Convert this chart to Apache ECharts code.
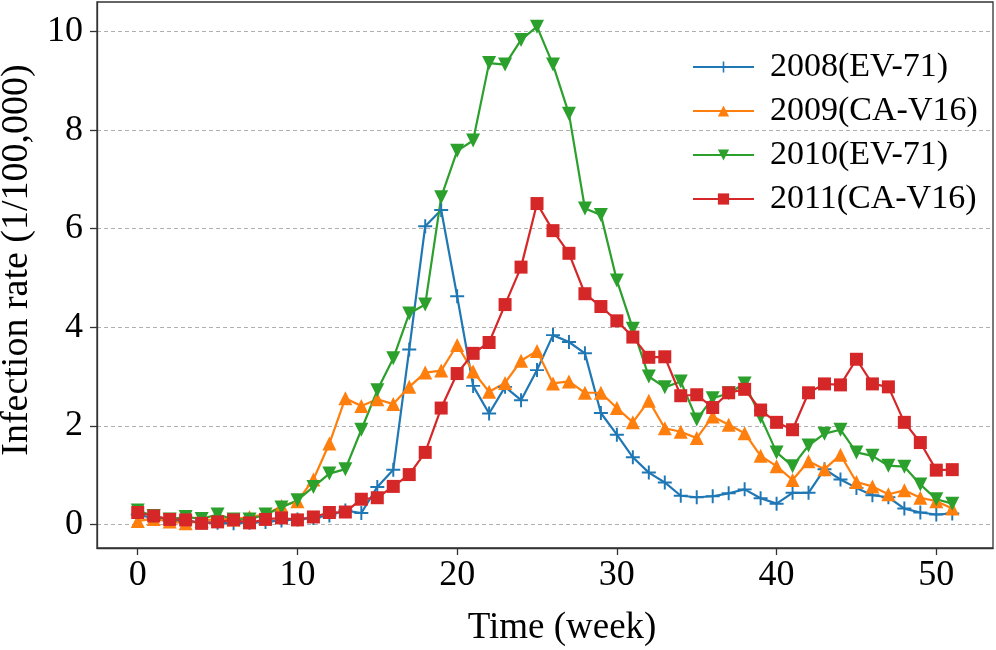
<!DOCTYPE html>
<html><head><meta charset="utf-8">
<script src="https://cdn.jsdelivr.net/npm/echarts@6/dist/echarts.min.js"></script>
<style>html,body{margin:0;padding:0;background:#fff}#c{width:996px;height:650px}</style>
</head><body><div id="c"></div>
<script>
const weeks = [0,1,2,3,4,5,6,7,8,9,10,11,12,13,14,15,16,17,18,19,20,21,22,23,24,25,26,27,28,29,30,31,32,33,34,35,36,37,38,39,40,41,42,43,44,45,46,47,48,49,50,51];
const seriesNames = ['2008(EV-71)','2009(CA-V16)','2010(EV-71)','2011(CA-V16)'];
const y2008 = [0.20,0.12,0.08,0.06,0.04,0.03,0.02,0.03,0.05,0.08,0.10,0.13,0.18,0.28,0.23,0.76,1.11,3.55,6.05,6.38,4.63,2.81,2.25,2.79,2.52,3.13,3.84,3.70,3.47,2.26,1.82,1.36,1.05,0.85,0.58,0.55,0.57,0.63,0.71,0.53,0.42,0.64,0.64,1.12,0.91,0.74,0.59,0.55,0.32,0.24,0.20,0.22];
const y2009 = [0.07,0.11,0.06,0.02,0.07,0.11,0.10,0.15,0.20,0.37,0.47,0.91,1.64,2.56,2.40,2.54,2.44,2.79,3.08,3.12,3.64,3.10,2.69,2.87,3.32,3.52,2.86,2.90,2.67,2.67,2.36,2.07,2.51,1.95,1.88,1.75,2.19,2.02,1.85,1.39,1.18,0.90,1.28,1.12,1.41,0.86,0.77,0.61,0.69,0.54,0.47,0.32];
const y2010 = [0.28,0.17,0.10,0.15,0.11,0.20,0.10,0.10,0.20,0.34,0.49,0.76,1.03,1.12,1.92,2.72,3.37,4.28,4.46,6.64,7.58,7.79,9.36,9.33,9.83,10.10,9.33,8.33,6.41,6.28,4.95,3.97,3.00,2.78,2.90,2.13,2.56,2.66,2.86,2.18,1.46,1.18,1.60,1.84,1.92,1.46,1.39,1.19,1.17,0.81,0.51,0.42];
const y2011 = [0.24,0.17,0.10,0.09,0.02,0.05,0.09,0.03,0.10,0.13,0.09,0.15,0.24,0.25,0.51,0.54,0.77,1.01,1.46,2.36,3.06,3.47,3.69,4.46,5.22,6.51,5.96,5.50,4.68,4.42,4.13,3.80,3.39,3.40,2.61,2.63,2.37,2.67,2.74,2.32,2.07,1.92,2.67,2.85,2.83,3.35,2.85,2.79,2.07,1.66,1.10,1.11];
const xTicks = [0,10,20,30,40,50];
const yTicks = [0,2,4,6,8,10];

const colors = ['#1f77b4','#ff7f0e','#2ca02c','#d62728'];
const FONT = 'Liberation Serif';
const plusPath = 'path://M43,0H57V43H100V57H57V100H43V57H0V43H43Z';
const allY = [y2008,y2009,y2010,y2011];
const symbols = [plusPath,'triangle','triangle','rect'];
const sizes = [14,14,14,13];
const rotates = [0,0,180,0];

const chart = echarts.init(document.getElementById('c'), null, {renderer:'canvas'});
chart.setOption({
  animation:false,
  backgroundColor:'#fff',
  color: colors,
  grid:{left:97,right:3,top:2,bottom:102,show:true,borderColor:'#333',borderWidth:1.3,backgroundColor:'transparent',containLabel:false,outerBoundsMode:'none'},
  legend:{
    orient:'vertical', left:692, top:50, padding:0, itemWidth:61, itemHeight:14, itemGap:10,
    data: seriesNames,
    textStyle:{fontFamily:FONT,fontSize:34,color:'#000',padding:[0,0,0,11]}
  },
  xAxis:{
    type:'value', min:-2.55, max:53.55,
    name:'Time (week)', nameLocation:'middle', nameGap:62,
    nameTextStyle:{fontFamily:FONT,fontSize:37,color:'#000',padding:[0,0,0,34]},
    axisLine:{show:true,onZero:false,lineStyle:{color:'#333',width:1.3}},
    axisTick:{show:true,length:7,customValues:xTicks,lineStyle:{color:'#333',width:1.3}},
    axisLabel:{customValues:xTicks,margin:10,fontFamily:FONT,fontSize:36,color:'#000'},
    splitLine:{show:false}
  },
  yAxis:{
    type:'value', min:-0.48, max:10.6,
    name:'Infection rate (1/100,000)', nameLocation:'middle', nameGap:58,
    nameTextStyle:{fontFamily:FONT,fontSize:38,color:'#000',padding:[0,0,0,30]},
    axisLine:{show:true,onZero:false,lineStyle:{color:'#333',width:1.3}},
    axisTick:{show:true,length:7,customValues:yTicks,lineStyle:{color:'#333',width:1.3}},
    axisLabel:{customValues:yTicks,margin:14,fontFamily:FONT,fontSize:36,color:'#000'},
    splitLine:{show:true,customValues:yTicks,lineStyle:{color:'#b0b0b0',width:1,type:[4,3]}}
  },
  series: seriesNames.map((n,i)=>({
    name:n, type:'line',
    data: weeks.map((w,k)=>[w, allY[i][k]]),
    symbol: symbols[i], symbolSize: sizes[i], symbolRotate: rotates[i],
    showSymbol:true,
    lineStyle:{width:2.2,color:colors[i]},
    itemStyle:{color:colors[i]},
    emphasis:{disabled:true}
  }))
});
</script>
</body></html>
